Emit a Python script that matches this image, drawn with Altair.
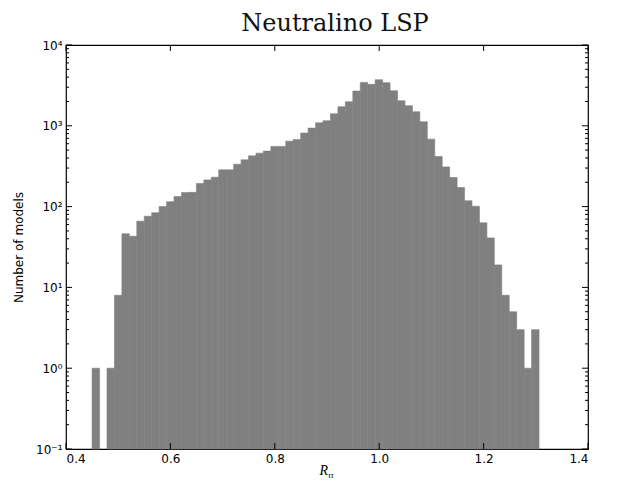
import altair as alt
import pandas as pd

# ---- data ----
bin_lo = 0.45
bin_width = 0.01427
counts = [1, 0, 1, 8, 46, 43, 66, 76, 84, 100, 115, 133, 149, 150, 193, 214, 231,
          285, 285, 335, 379, 425, 459, 486, 556, 556, 646, 678, 812, 936, 1090,
          1154, 1409, 1720, 1985, 2692, 3446, 3258, 3715, 3413, 2716, 2041, 1770,
          1492, 1121, 684, 417, 310, 229, 172, 118, 101, 63, 41, 19, 8, 5, 3, 1, 3]
x_ticks = [0.4, 0.6, 0.8, 1.0, 1.2, 1.4]
y_major = [0.1, 1, 10, 100, 1000, 10000]
y_labels = ["10\u207b\u00b9", "10\u2070", "10\u00b9", "10\u00b2", "10\u00b3", "10\u2074"]
y_minor = [k * m for m in [0.1, 1, 10, 100, 1000] for k in range(2, 10)]
title_text = "Neutralino LSP"
y_title = "Number of models"
x_title_main = "R"
x_title_sub = "\u03c4\u03c4"

W, H = 522, 404

bars = pd.DataFrame({
    "lo": [round(bin_lo + i * bin_width, 5) for i in range(len(counts))],
    "hi": [round(bin_lo + (i + 1) * bin_width, 5) for i in range(len(counts))],
    "count": counts,
})
bars = bars[bars["count"] > 0]
bars["base"] = 0.1

xs = alt.Scale(domain=[0.4, 1.4], nice=False, zero=False)
ys = alt.Scale(type="log", domain=[0.1, 10000], nice=False)

label_map = "{" + ",".join(f"'{i}':'{l}'" for i, l in enumerate(y_labels)) + "}"
label_expr = f"{label_map}[''+(round(log(datum.value)/LN10)+1)]"

bar_layer = alt.Chart(bars).mark_bar(color="#808080", stroke="#808080", strokeWidth=0.6).encode(
    x=alt.X("lo:Q", scale=xs, axis=alt.Axis(values=x_ticks, format=".1f", ticks=False,
                                            domain=False, grid=False, title=None,
                                            labelFont="DejaVu Sans", labelFontSize=12,
                                            labelColor="black", labelPadding=4)),
    x2="hi:Q",
    y=alt.Y("count:Q", scale=ys, axis=alt.Axis(values=y_major, labelExpr=label_expr,
                                               ticks=False, domain=False, grid=False,
                                               title=y_title, titleFont="DejaVu Sans",
                                               titleFontSize=12, titleFontWeight="normal",
                                               titleColor="black", titlePadding=10,
                                               labelFont="DejaVu Sans", labelFontSize=12,
                                               labelColor="black", labelPadding=4)),
    y2="base:Q",
)

ymaj = pd.DataFrame({"v": y_major})
ymin = pd.DataFrame({"v": y_minor})
xmaj = pd.DataFrame({"v": x_ticks})

def yticks(df, length):
    left = alt.Chart(df).mark_rule(color="black", strokeWidth=1).encode(
        y=alt.Y("v:Q", scale=ys), x=alt.value(0), x2=alt.value(length))
    right = alt.Chart(df).mark_rule(color="black", strokeWidth=1).encode(
        y=alt.Y("v:Q", scale=ys), x=alt.value(W), x2=alt.value(W - length))
    return [left, right]

def xticks(df, length):
    top = alt.Chart(df).mark_rule(color="black", strokeWidth=1).encode(
        x=alt.X("v:Q", scale=xs), y=alt.value(0), y2=alt.value(length))
    bottom = alt.Chart(df).mark_rule(color="black", strokeWidth=1).encode(
        x=alt.X("v:Q", scale=xs), y=alt.value(H), y2=alt.value(H - length))
    return [top, bottom]

tdf = pd.DataFrame({"main": [x_title_main], "sub": [x_title_sub], "title": [title_text]})
rtext = alt.Chart(tdf).mark_text(font="Liberation Serif", fontSize=14, fontStyle="italic",
                                 align="right", baseline="alphabetic", color="black").encode(
    text="main:N", x=alt.value(W / 2 + 1), y=alt.value(H + 26))
subtext = alt.Chart(tdf).mark_text(font="Liberation Serif", fontSize=8, fontStyle="italic",
                                   align="left", baseline="alphabetic", color="black").encode(
    text="sub:N", x=alt.value(W / 2 + 1), y=alt.value(H + 29))
ttext = alt.Chart(tdf).mark_text(font="DejaVu Serif", fontSize=24, fontWeight="normal",
                                 align="center", baseline="alphabetic", color="#111111").encode(
    text="title:N", x=alt.value(W / 2 + 8), y=alt.value(-14))

chart = alt.layer(bar_layer, *yticks(ymaj, 6), *yticks(ymin, 3), *xticks(xmaj, 6),
                  rtext, subtext, ttext).properties(
    width=W, height=H,
    autosize=alt.AutoSizeParams(type="none"),
    padding={"left": 58, "top": 37, "right": 25, "bottom": 37},
    background="white",
).configure_view(stroke="black", strokeWidth=1.2)

chart.save("out.html", embed_options={"renderer": "svg", "actions": False})
